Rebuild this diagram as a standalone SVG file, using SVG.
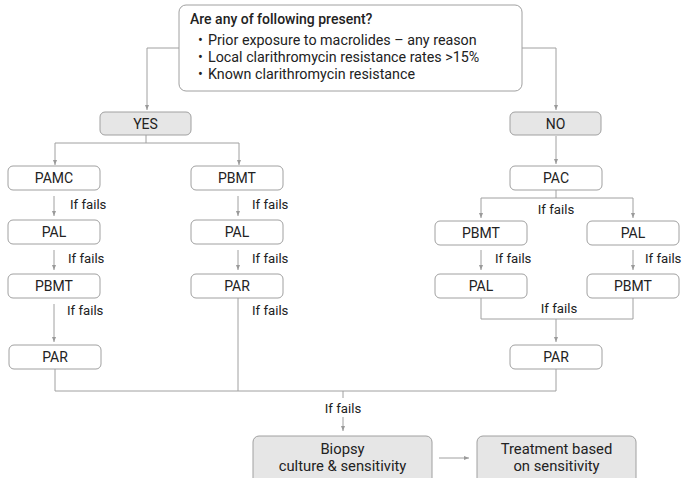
<svg xmlns="http://www.w3.org/2000/svg" width="682" height="478" viewBox="0 0 682 478">
<defs>
<marker id="ah" viewBox="0 0 10 10" refX="10" refY="5" markerWidth="5" markerHeight="5" orient="auto" markerUnits="userSpaceOnUse">
<path d="M0,1 L10,5 L0,9 z" fill="#9a9a9a"/>
</marker>
</defs>
<style>
.box{fill:#fff;stroke:#a0a0a0;stroke-width:1}
.gbox{fill:#e6e6e6;stroke:#a0a0a0;stroke-width:1}
.t{font-family:Roboto,"Liberation Sans",sans-serif;font-size:14px;fill:#222;text-anchor:middle}
.b{font-size:14.8px}
.f{font-family:Roboto,"Liberation Sans",sans-serif;font-size:13.2px;fill:#222}
.q{font-family:Roboto,"Liberation Sans",sans-serif;font-size:14.3px;fill:#222}
.c{fill:none;stroke:#a0a0a0;stroke-width:1}
.a{fill:none;stroke:#a0a0a0;stroke-width:1;marker-end:url(#ah)}
</style>
<rect width="682" height="478" fill="#fff"/>
<g id="connectors">
<path class="a" d="M179,48 H147 V110"/>
<path class="a" d="M522,48 H556 V110"/>
<path class="c" d="M146,135 V143 M55,143 H239"/>
<path class="a" d="M55,143 V165"/>
<path class="a" d="M239,143 V165"/>
<path class="a" d="M54,196 V216"/>
<path class="a" d="M54,250 V270"/>
<path class="a" d="M54,304 V342"/>
<path class="a" d="M238,196 V216"/>
<path class="a" d="M238,250 V270"/>
<path class="a" d="M556,136 V164"/>
<path class="c" d="M556,190 V198 M481,198 H633"/>
<path class="a" d="M481,198 V218"/>
<path class="a" d="M633,198 V218"/>
<path class="a" d="M481,250 V270"/>
<path class="a" d="M633,250 V270"/>
<path class="c" d="M481,298 V319 H633 V298"/>
<path class="a" d="M556,319 V342"/>
<path class="c" d="M55,369 V391 H556 V369 M238,298 V391"/>
<path class="c" d="M343,391 V398"/>
<path class="a" d="M343,417 V431"/>
<path class="a" d="M439,458 H469"/>
</g>
<g id="question">
<rect class="box" x="179" y="5" width="343" height="86" rx="7"/>
<text class="f" x="190" y="24" style="font-size:14px;font-weight:500">Are any of following present?</text>
<text class="q" x="198" y="45">•</text><text class="q" x="208" y="45">Prior exposure to macrolides – any reason</text>
<text class="q" x="198" y="62">•</text><text class="q" x="208" y="62">Local clarithromycin resistance rates &gt;15%</text>
<text class="q" x="198" y="79">•</text><text class="q" x="208" y="79">Known clarithromycin resistance</text>
</g>
<g id="yes"><rect class="gbox" x="100" y="112" width="91" height="23" rx="5"/><text class="t" x="145.5" y="128.5">YES</text></g>
<g id="no"><rect class="gbox" x="510" y="112" width="91" height="23" rx="5"/><text class="t" x="555.5" y="128.5">NO</text></g>
<g id="pamc"><rect class="box" x="8" y="166" width="92" height="24" rx="5"/><text class="t" x="54" y="183">PAMC</text></g>
<g id="pal1"><rect class="box" x="8" y="220" width="92" height="24" rx="5"/><text class="t" x="54" y="237">PAL</text></g>
<g id="pbmt1"><rect class="box" x="8" y="274" width="92" height="24" rx="5"/><text class="t" x="54" y="291">PBMT</text></g>
<g id="par1"><rect class="box" x="9" y="345" width="92" height="24" rx="5"/><text class="t" x="55" y="362">PAR</text></g>
<g id="pbmt2"><rect class="box" x="191" y="166" width="92" height="24" rx="5"/><text class="t" x="237" y="183">PBMT</text></g>
<g id="pal2"><rect class="box" x="191" y="220" width="92" height="24" rx="5"/><text class="t" x="237" y="237">PAL</text></g>
<g id="par2"><rect class="box" x="191" y="274" width="92" height="24" rx="5"/><text class="t" x="237" y="291">PAR</text></g>
<g id="pac"><rect class="box" x="510" y="166" width="92" height="24" rx="5"/><text class="t" x="556" y="183">PAC</text></g>
<g id="pbmt3"><rect class="box" x="435" y="221" width="92" height="24" rx="5"/><text class="t" x="481" y="238">PBMT</text></g>
<g id="pal3"><rect class="box" x="587" y="221" width="92" height="24" rx="5"/><text class="t" x="633" y="238">PAL</text></g>
<g id="pal4"><rect class="box" x="435" y="274" width="92" height="24" rx="5"/><text class="t" x="481" y="291">PAL</text></g>
<g id="pbmt4"><rect class="box" x="587" y="274" width="92" height="24" rx="5"/><text class="t" x="633" y="291">PBMT</text></g>
<g id="par3"><rect class="box" x="510" y="345" width="92" height="24" rx="5"/><text class="t" x="556" y="362">PAR</text></g>
<g id="biopsy"><rect class="gbox" x="253" y="436" width="179" height="48" rx="6"/><text class="t b" x="342.5" y="454">Biopsy</text><text class="t b" x="342.5" y="471">culture &amp; sensitivity</text></g>
<g id="treatment"><rect class="gbox" x="477" y="436" width="159" height="48" rx="6"/><text class="t b" x="556.5" y="454">Treatment based</text><text class="t b" x="556.5" y="471">on sensitivity</text></g>
<g id="labels">
<text class="f" x="70" y="209">If fails</text>
<text class="f" x="68" y="263">If fails</text>
<text class="f" x="67" y="315">If fails</text>
<text class="f" x="252" y="209">If fails</text>
<text class="f" x="252" y="263">If fails</text>
<text class="f" x="252" y="315">If fails</text>
<text class="f" x="556" y="214" text-anchor="middle">If fails</text>
<text class="f" x="495" y="263">If fails</text>
<text class="f" x="645" y="263">If fails</text>
<text class="f" x="559" y="313" text-anchor="middle">If fails</text>
<text class="f" x="343" y="413" text-anchor="middle">If fails</text>
</g>
</svg>
